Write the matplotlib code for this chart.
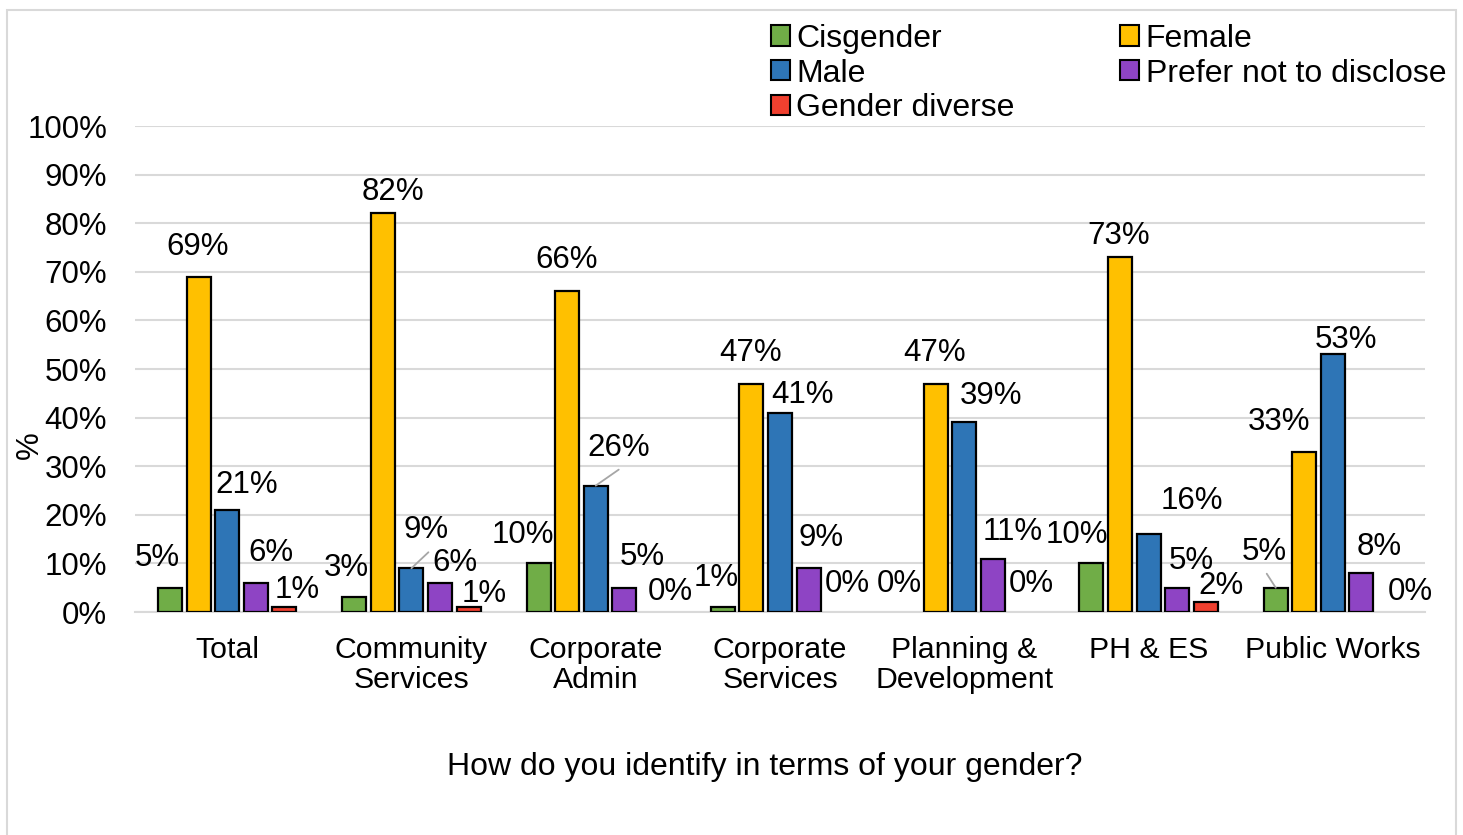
import matplotlib
matplotlib.use("Agg")
import matplotlib.pyplot as plt
from matplotlib.patches import Patch, Rectangle
import numpy as np

plt.rcParams['font.family'] = ['Liberation Sans', 'DejaVu Sans']

categories = ["Total", "Community\nServices", "Corporate\nAdmin", "Corporate\nServices",
              "Planning &\nDevelopment", "PH & ES", "Public Works"]
series_names = ["Cisgender", "Female", "Male", "Prefer not to disclose", "Gender diverse"]
cisgender = [5, 3, 10, 1, 0, 10, 5]
female = [69, 82, 66, 47, 47, 73, 33]
male = [21, 9, 26, 41, 39, 16, 53]
prefer_not = [6, 6, 5, 9, 11, 5, 8]
gender_diverse = [1, 1, 0, 0, 0, 2, 0]
yticks = [0, 10, 20, 30, 40, 50, 60, 70, 80, 90, 100]

series = [cisgender, female, male, prefer_not, gender_diverse]
colors = ["#70AD47", "#FFC000", "#2E75B6", "#8E44C4", "#F0402F"]

# label offsets in pixels (dx, dy) relative to bar top centre, per series per group
label_offsets = [
    [(-13, 30), (-8, 29), (-16, 28), (-7, 29), (-8, 28), (-15, 28), (-11, 36)],
    [(-1, 30), (10, 21), (-1, 31), (-1, 31), (-1, 31), (-1, 21), (-25, 30)],
    [(20, 25), (15, 38), (23, 38), (23, 18), (27, 26), (43, 33), (13, 14)],
    [(15, 30), (15, 20), (18, 31), (12, 30), (20, 27), (14, 27), (18, 26)],
    [(13, 17), (16, 13), (17, 20), (10, 28), (10, 28), (15, 16), (20, 20)],
]
# leader lines: (series, group) -> end offset in pixels
leaders = {(2, 1): (17, 16), (2, 2): (23, 16), (0, 6): (-9, 14)}

W, H = 1463, 835
fig = plt.figure(figsize=(W / 100, H / 100), dpi=100)
ax = fig.add_axes([135 / W, 1 - 612 / H, (1425 - 135) / W, (612 - 126) / H])

x = np.arange(len(categories))
step = 0.155
width = 0.13
fs = 22.5

for i, (vals, col) in enumerate(zip(series, colors)):
    pos = x + (i - 2) * step
    lws = [1.6 if v > 0 else 0 for v in vals]
    ax.bar(pos, vals, width=width, color=col, edgecolor="black", linewidth=lws, zorder=3)
    for j, (p, v) in enumerate(zip(pos, vals)):
        dx, dy = label_offsets[i][j]
        ax.annotate(f"{v}%", xy=(p, v), xytext=(dx, dy), textcoords="offset pixels",
                    ha="center", va="center", fontsize=fs, color="black", zorder=5)
        if (i, j) in leaders:
            ex, ey = leaders[(i, j)]
            ax.annotate("", xy=(p, v), xytext=(ex, ey), textcoords="offset pixels",
                        arrowprops=dict(arrowstyle="-", color="#a6a6a6", lw=1.3,
                                        shrinkA=0, shrinkB=0), zorder=5)

ax.set_xlim(-0.5, len(categories) - 0.5)
ax.set_ylim(0, 100)
ax.set_yticks(yticks)
ax.set_yticklabels([f"{t}%" for t in yticks])
ax.set_xticks(x)
ax.set_xticklabels(categories, linespacing=1.12)
ax.tick_params(axis="y", length=0, pad=20, labelsize=fs)
ax.tick_params(axis="x", length=0, pad=17, labelsize=21.8)
ax.grid(axis="y", color="#d9d9d9", linewidth=1.5, zorder=0)
for s in ["top", "right", "left"]:
    ax.spines[s].set_visible(False)
ax.spines["bottom"].set_color("#d9d9d9")
ax.spines["bottom"].set_linewidth(1.5)
ax.spines["bottom"].set_zorder(1)

fig.text(30 / W, 1 - 445 / H, "%", rotation=90, fontsize=fs, ha="center", va="center")
fig.text(765 / W, 1 - 767 / H, "How do you identify in terms of your gender?",
         fontsize=23, ha="center", va="center")

handles = [Patch(facecolor=c, edgecolor="black", linewidth=1.5) for c in colors]
order = [0, 2, 4, 1, 3]
fig.legend([handles[k] for k in order], [series_names[k] for k in order],
           ncol=2, loc="upper left", bbox_to_anchor=(758 / W, 1 - 11 / H),
           frameon=False, fontsize=23, handlelength=0.6, handleheight=0.6,
           handletextpad=0.2, columnspacing=3.3, labelspacing=0.15, borderaxespad=0)

fig.patches.append(Rectangle((7 / W, -0.01), (1456 - 7) / W, 1 - 10 / H + 0.01,
                             transform=fig.transFigure, fill=False,
                             edgecolor="#d9d9d9", linewidth=1.5))

fig.savefig("out.png", dpi=100)
